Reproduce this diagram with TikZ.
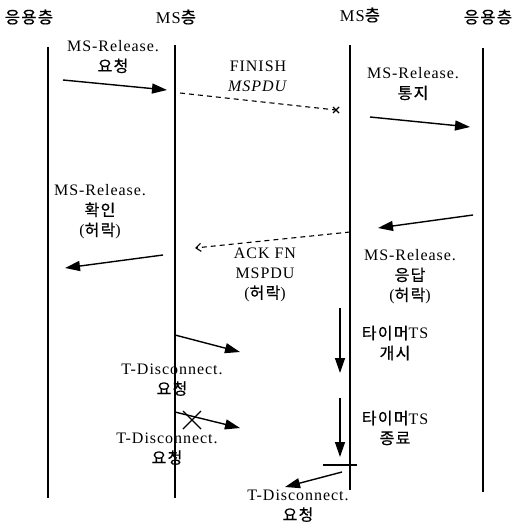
\documentclass[tikz,border=0pt]{standalone}
\usepackage{fontspec}
\setmainfont{Liberation Serif}[LetterSpace=6]
\newfontfamily\kr{Noto Sans CJK KR}[LetterSpace=8,FakeBold=0.6]
\usetikzlibrary{arrows.meta,calc}
\tikzset{
  life/.style={line width=1.4pt},
  hd/.style={font=\kr\fontsize{16.5}{18}\selectfont, inner sep=0pt},
  lbl/.style={font=\fontsize{16}{20}\selectfont, align=center, inner sep=0pt},
  msg/.style={-{Triangle[length=15pt,width=10pt]}, line width=1.4pt},
  dmsg/.style={line width=1.1pt, dash pattern=on 5pt off 4pt},
  tmr/.style={-{Triangle[length=15pt,width=10pt]}, line width=1.4pt},
}

\begin{document}
\begin{tikzpicture}[x=1pt,y=-1pt]
\useasboundingbox (0,0) rectangle (518,524);
% layer heads
\node[hd] (app1) at (29,17) {응용층};
\node[hd] (ms1) at (176,17) {\rmfamily MS{\kr 층}};
\node[hd] (ms2) at (360,15) {\rmfamily MS{\kr 층}};
\node[hd] (app2) at (488,17) {응용층};
% lifelines
\coordinate (a1t) at (48,47);  \coordinate (a1b) at (48,498);
\coordinate (s1t) at (175,45); \coordinate (s1b) at (175,498);
\coordinate (s2t) at (350,45); \coordinate (s2b) at (350,490);
\coordinate (a2t) at (483,48); \coordinate (a2b) at (483,492);
\draw[life] (a1t) -- (a1b);
\draw[life] (s1t) -- (s1b);
\draw[life] (s2t) -- (s2b);
\draw[life] (a2t) -- (a2b);
% release request
\coordinate (rq0) at (63,80); \coordinate (rq1) at (167,90);
\draw[msg] (rq0) -- (rq1);
\node[lbl] (rqL) at (113,57) {MS-Release.\\{\kr 요청}};
% finish mspdu
\coordinate (fn0) at (180,93); \coordinate (fn1) at (336,110);
\draw[dmsg] (fn0) -- (fn1);
\draw[line width=1.4pt] ($(fn1)+(-3,-3)$) -- ($(fn1)+(3,3)$) ($(fn1)+(-3,3)$) -- ($(fn1)+(3,-3)$);
\node[lbl] (fnL) at (258,76) {FINISH\\\textit{MSPDU}};
% release indication
\coordinate (in0) at (370,117); \coordinate (in1) at (470,127);
\draw[msg] (in0) -- (in1);
\node[lbl] (inL) at (413,84) {MS-Release.\\{\kr 통지}};
% release response
\coordinate (rs0) at (473,215); \coordinate (rs1) at (378,228);
\draw[msg] (rs0) -- (rs1);
\node[lbl] (rsL) at (410,277) {MS-Release.\\{\kr 응답}\\({\kr 허락})};
% ack fn mspdu
\coordinate (ak0) at (350,232); \coordinate (ak1) at (195,248);
\draw[dmsg,-{Straight Barb[length=5pt,width=8pt]}] (ak0) -- (ak1);
\node[lbl] (akL) at (265,275) {ACK FN\\MSPDU\\({\kr 허락})};
% release confirm
\coordinate (cf0) at (163,255); \coordinate (cf1) at (65,268);
\draw[msg] (cf0) -- (cf1);
\node[lbl] (cfL) at (100,212) {MS-Release.\\{\kr 확인}\\({\kr 허락})};
% t-disconnect 1
\coordinate (td0) at (175,335); \coordinate (td1) at (240,352);
\draw[msg] (td0) -- (td1);
\node[lbl] (tdL) at (172,380) {T-Disconnect.\\{\kr 요청}};
% t-disconnect 2 (lost)
\coordinate (tx0) at (175,412); \coordinate (tx1) at (240,428);
\draw[msg] (tx0) -- (tx1);
\coordinate (xc) at (192,420);
\draw[line width=1.4pt] ($(xc)+(-9,-9)$) -- ($(xc)+(9,9)$) ($(xc)+(-9,9)$) -- ($(xc)+(9,-9)$);
\node[lbl] (txL) at (167,449) {T-Disconnect.\\{\kr 요청}};
% timer ts
\coordinate (ts0) at (340,308); \coordinate (ts1) at (340,373);
\draw[tmr] (ts0) -- (ts1);
\node[lbl] (tsL) at (395,343) {{\kr 타이머}TS\\{\kr 개시}};
\coordinate (te0) at (340,398); \coordinate (te1) at (340,457);
\draw[tmr] (te0) -- (te1);
\node[lbl] (teL) at (395,428) {{\kr 타이머}TS\\{\kr 종료}};
\coordinate (br0) at (323,465); \coordinate (br1) at (357,465);
\draw[line width=1.4pt] (br0) -- (br1);
% t-disconnect 3
\coordinate (tz0) at (342,472); \coordinate (tz1) at (285,487);
\draw[msg] (tz0) -- (tz1);
\node[lbl] (tzL) at (298,506) {T-Disconnect.\\{\kr 요청}};
\end{tikzpicture}
\end{document}
